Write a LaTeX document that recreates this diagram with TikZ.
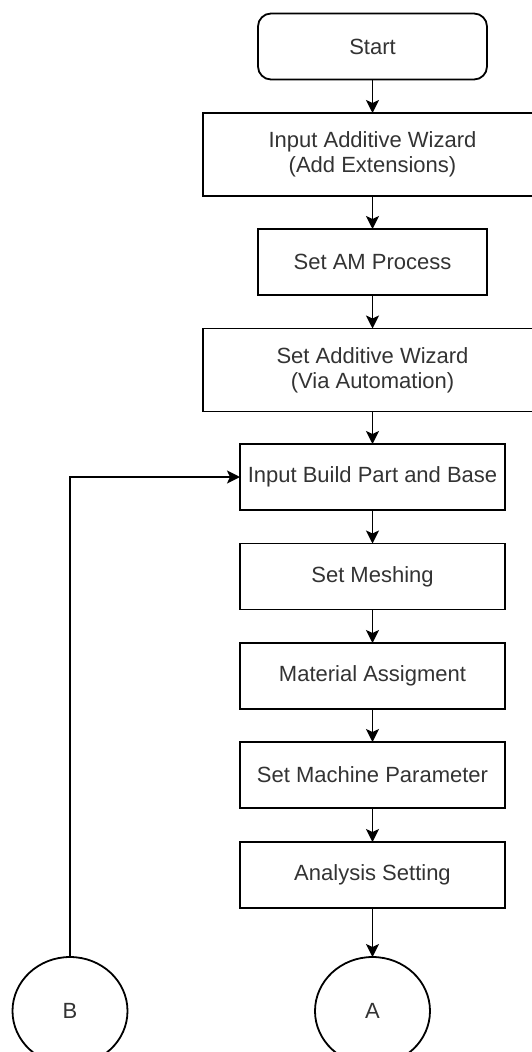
\documentclass[tikz,border=0pt]{standalone}
\usepackage{fontspec}
\setmainfont{Liberation Sans}
\usetikzlibrary{arrows.meta,shapes.geometric}
\definecolor{labelgray}{HTML}{333333}
\begin{document}
\begin{tikzpicture}[x=1pt,y=-1pt,
  every node/.style={font=\fontsize{22}{25}\selectfont, text=labelgray,
    align=center, inner sep=0pt, outer sep=0pt},
  box/.style={draw=black, line width=1.8pt, rectangle},
  midbox/.style={box, minimum width=229pt, minimum height=66pt},
  widebox/.style={box, minimum width=339pt, minimum height=83pt},
  stdbox/.style={box, minimum width=265pt, minimum height=66pt},
  terminal/.style={midbox, rounded corners=13pt},
  connector/.style={draw=black, line width=1.8pt, ellipse,
    minimum width=115pt, minimum height=108pt},
  flow/.style={draw=black, line width=1.8pt,
    -{Stealth[length=13pt,width=13pt,inset=3pt]}}]
  \clip (0,0) rectangle (532,1052);

  \node[terminal] (start)  at (372.5,46.5) {Start};
  \node[widebox]  (inwiz)  at (372.5,154.5) {Input Additive Wizard\\(Add Extensions)};
  \node[midbox]   (amproc) at (372.5,262) {Set AM Process};
  \node[widebox]  (setwiz) at (372.5,370) {Set Additive Wizard\\(Via Automation)};
  \node[stdbox]   (build)  at (372.5,477) {Input Build Part and Base};
  \node[stdbox]   (mesh)   at (372.5,576.5) {Set Meshing};
  \node[stdbox]   (mat)    at (372.5,676) {Material Assigment};
  \node[stdbox]   (mach)   at (372.5,775) {Set Machine Parameter};
  \node[stdbox]   (anal)   at (372.5,875) {Analysis Setting};
  \node[connector] (A) at (372.5,1011) {A};
  \node[connector] (B) at (70,1011) {B};

  \draw[flow] (start) -- (inwiz);
  \draw[flow] (inwiz) -- (amproc);
  \draw[flow] (amproc) -- (setwiz);
  \draw[flow] (setwiz) -- (build);
  \draw[flow] (build) -- (mesh);
  \draw[flow] (mesh) -- (mat);
  \draw[flow] (mat) -- (mach);
  \draw[flow] (mach) -- (anal);
  \draw[flow] (anal) -- (A);
  \draw[flow] (B.north) |- (build.west);
\end{tikzpicture}
\end{document}
